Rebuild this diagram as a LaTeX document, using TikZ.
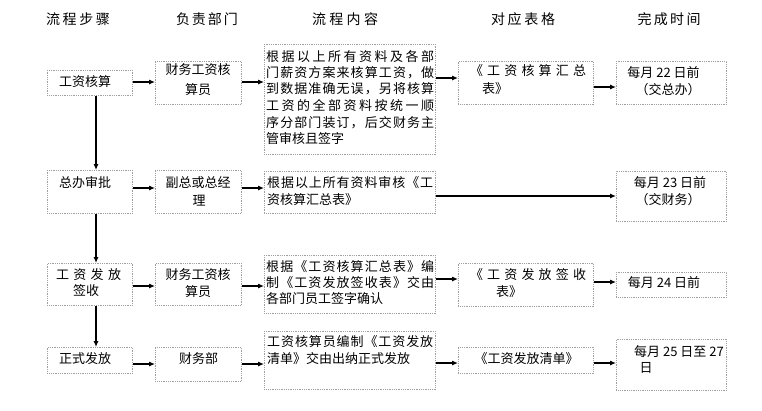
\documentclass[tikz,border=0pt]{standalone}
\usepackage{fontspec}
\setmainfont{Noto Sans CJK SC}
\usetikzlibrary{arrows.meta}
\ExplSyntaxOn
\bool_new:N \l_spread_first_bool
\NewDocumentCommand\jl{mm}{\makebox[#1pt][s]{\bool_set_true:N \l_spread_first_bool
  \tl_map_inline:nn {#2}{\bool_if:NTF \l_spread_first_bool {\bool_set_false:N \l_spread_first_bool}{\hspace{0pt~plus~1fil}}##1}}}
\ExplSyntaxOff
\begin{document}
\begin{tikzpicture}[x=1pt,y=-1pt,
  box/.style={draw=gray!75, densely dotted, line width=0.8pt, inner sep=0pt, anchor=north west},
  txt/.style={font=\fontsize{13}{16}\selectfont, inner sep=0pt, text height=11.4pt, text depth=1.6pt},
  hdr/.style={font=\fontsize{14}{16}\selectfont, inner sep=0pt, text height=12.3pt, text depth=1.7pt},
  arr/.style={-{Latex[length=6pt,width=5pt]}, line width=1.1pt, black}]
\useasboundingbox (0,0) rectangle (762,410);
% headers
\node[hdr] (h1) at (78,19) {\jl{64}{流程步骤}};
\node[hdr] (h2) at (207,19) {\jl{62}{负责部门}};
\node[hdr] (h3) at (345,19) {\jl{66}{流程内容}};
\node[hdr] (h4) at (523,19) {\jl{64}{对应表格}};
\node[hdr] (h5) at (669,19) {\jl{63}{完成时间}};
% row 1
\node[box, minimum width=85, minimum height=25] (s1) at (47,70) {};
\node[box, minimum width=86, minimum height=43] (d1) at (155,61) {};
\node[box, minimum width=171, minimum height=110] (c1) at (264,44) {};
\node[box, minimum width=135, minimum height=43] (f1) at (458,61) {};
\node[box, minimum width=110, minimum height=43] (t1) at (616,61) {};
\node[txt] (s1t) at (85,82) {工资核算};
\node[txt] (d1a) at (198,70) {财务工资核};
\node[txt] (d1b) at (198,90) {算员};
\node[txt, anchor=west] (c1a) at (266,57) {\jl{168}{根据以上所有资料及各部}};
\node[txt, anchor=west] (c1b) at (266,73) {\jl{168}{门薪资方案来核算工资，做}};
\node[txt, anchor=west] (c1c) at (266,89) {\jl{168}{到数据准确无误，另将核算}};
\node[txt, anchor=west] (c1d) at (266,106) {\jl{168}{工资的全部资料按统一顺}};
\node[txt, anchor=west] (c1e) at (266,123) {\jl{168}{序分部门装订，后交财务主}};
\node[txt, anchor=west] (c1f) at (266,139) {管审核且签字};
\node[txt] (f1a) at (528,71) {\jl{116}{《工资核算汇总}};
\node[txt, anchor=west] (f1b) at (482,89) {表》};
\node[txt] (t1a) at (663.5,72.5) {每月 22 日前};
\node[txt] (t1b) at (668,90) {（交总办）};
% row 2
\node[box, minimum width=85, minimum height=43] (s2) at (47,170) {};
\node[box, minimum width=86, minimum height=43] (d2) at (155,170) {};
\node[box, minimum width=171, minimum height=42] (c2) at (264,171) {};
\node[box, minimum width=110, minimum height=50] (t2) at (616,171) {};
\node[txt] (s2t) at (85,183) {总办审批};
\node[txt] (d2a) at (198,183) {副总或总经};
\node[txt] (d2b) at (199,201) {理};
\node[txt, anchor=west] (c2a) at (267,183) {\jl{166}{根据以上所有资料审核《工}};
\node[txt, anchor=west] (c2b) at (267,200) {资核算汇总表》};
\node[txt] (t2a) at (670,183) {每月 23 日前};
\node[txt] (t2b) at (668,200) {（交财务）};
% row 3
\node[box, minimum width=85, minimum height=42] (s3) at (47,263) {};
\node[box, minimum width=86, minimum height=42] (d3) at (155,263) {};
\node[box, minimum width=171, minimum height=58] (c3) at (264,255) {};
\node[box, minimum width=135, minimum height=43] (f3) at (458,263) {};
\node[box, minimum width=110, minimum height=25] (t3) at (616,272) {};
\node[txt] (s3a) at (88.5,275) {\jl{65}{工资发放}};
\node[txt] (s3b) at (86,291) {签收};
\node[txt] (d3a) at (198,275) {财务工资核};
\node[txt] (d3b) at (198,291.5) {算员};
\node[txt, anchor=west] (c3a) at (266,267) {\jl{168}{根据《工资核算汇总表》编}};
\node[txt, anchor=west] (c3b) at (266,283) {\jl{168}{制《工资发放签收表》交由}};
\node[txt, anchor=west] (c3c) at (266,299) {各部门员工签字确认};
\node[txt] (f3a) at (528,275) {\jl{116}{《工资发放签收}};
\node[txt, anchor=west] (f3b) at (496,292) {表》};
\node[txt] (t3a) at (664,283) {每月 24 日前};
% row 4
\node[box, minimum width=85, minimum height=26] (s4) at (47,347) {};
\node[box, minimum width=86, minimum height=34] (d4) at (155,347) {};
\node[box, minimum width=171, minimum height=58] (c4) at (264,331) {};
\node[box, minimum width=135, minimum height=26] (f4) at (458,347) {};
\node[box, minimum width=110, minimum height=51] (t4) at (616,339) {};
\node[txt] (s4t) at (85,359) {正式发放};
\node[txt] (d4t) at (198.5,359) {财务部};
\node[txt, anchor=west] (c4a) at (267,342) {\jl{166}{工资核算员编制《工资发放}};
\node[txt, anchor=west] (c4b) at (267,359) {清单》交由出纳正式发放};
\node[txt] (f4t) at (526.5,359) {《工资发放清单》};
\node[txt] (t4a) at (679,352) {每月 25 日至 27};
\node[txt] (t4b) at (646,368) {日};
% horizontal arrows
\draw[arr] (s1.east |- 0,82) -- (d1.west |- 0,82);
\draw[arr] (d1.east |- 0,82) -- (c1.west |- 0,82);
\draw[arr] (c1.east |- 0,78) -- (f1.west |- 0,78);
\draw[arr] (f1.east |- 0,87) -- (t1.west |- 0,87);
\draw[arr] (s2.east |- 0,188) -- (d2.west |- 0,188);
\draw[arr] (d2.east |- 0,188) -- (c2.west |- 0,188);
\draw[arr] (c2.east |- 0,196) -- (t2.west |- 0,196);
\draw[arr] (s3.east |- 0,286) -- (d3.west |- 0,286);
\draw[arr] (d3.east |- 0,286) -- (c3.west |- 0,286);
\draw[arr] (c3.east |- 0,279) -- (f3.west |- 0,279);
\draw[arr] (f3.east |- 0,282) -- (t3.west |- 0,282);
\draw[arr] (s4.east |- 0,364) -- (d4.west |- 0,364);
\draw[arr] (d4.east |- 0,364) -- (c4.west |- 0,364);
\draw[arr] (c4.east |- 0,363) -- (f4.west |- 0,363);
\draw[arr] (f4.east |- 0,363) -- (t4.west |- 0,363);
% vertical arrows
\draw[arr] (s1.south -| 96,0) -- (s2.north -| 96,0);
\draw[arr] (s2.south -| 96,0) -- (s3.north -| 96,0);
\draw[arr] (s3.south -| 96,0) -- (s4.north -| 96,0);
\end{tikzpicture}
\end{document}
